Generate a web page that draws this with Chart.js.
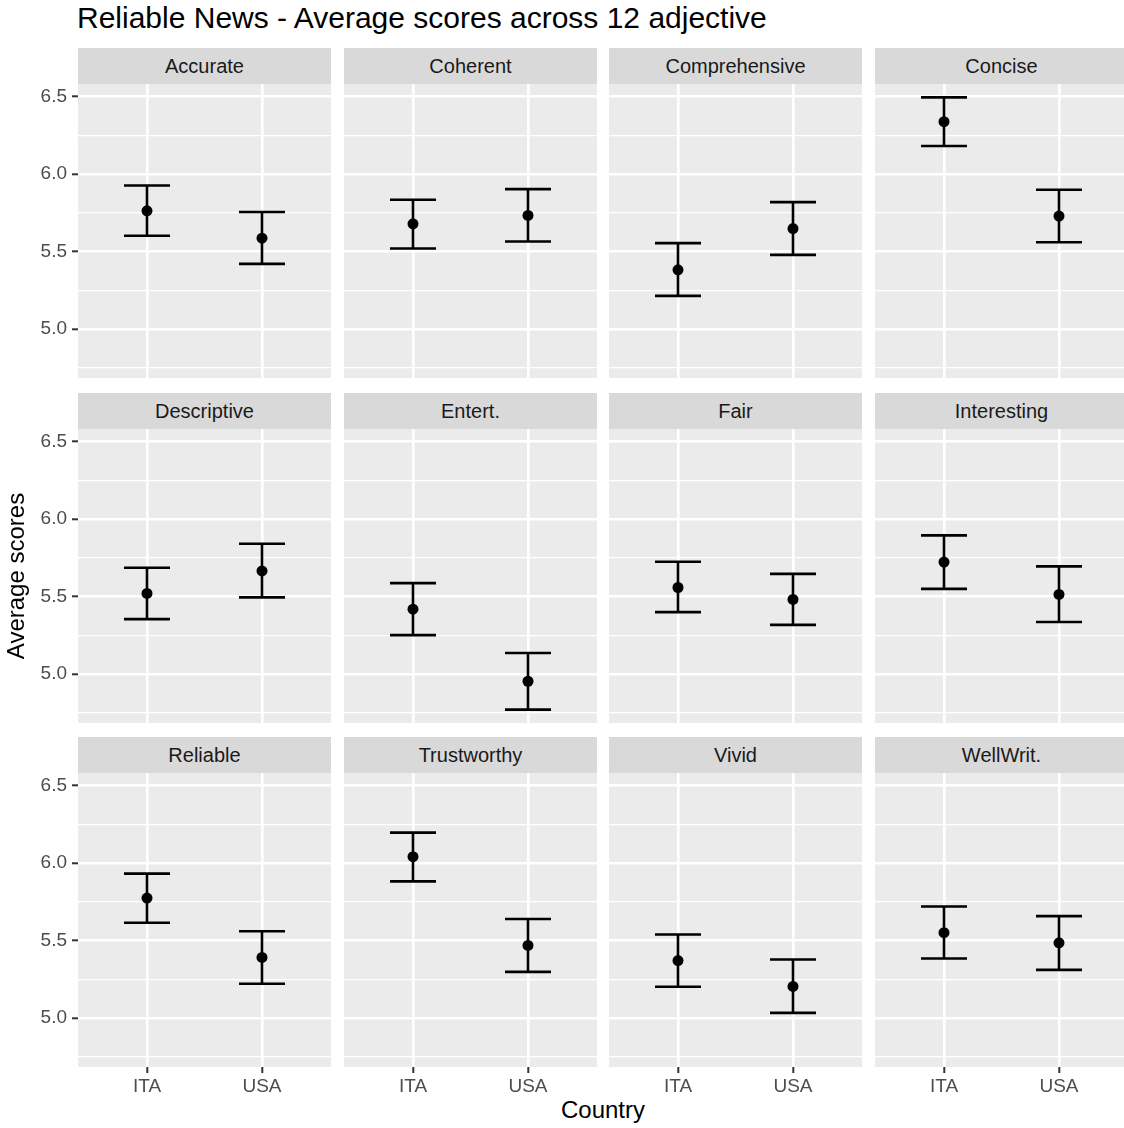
<!DOCTYPE html>
<html><head><meta charset="utf-8">
<script src="https://cdn.jsdelivr.net/npm/chart.js@4.4.0/dist/chart.umd.min.js"></script>
<style>
html,body{margin:0;padding:0;background:#fff;width:1124px;height:1128px;overflow:hidden;position:relative;font-family:"Liberation Sans",Arial,sans-serif;}
.strip{position:absolute;background:#D9D9D9;color:#1A1A1A;font-size:20px;display:flex;align-items:center;justify-content:center;white-space:nowrap;}
.txt{position:absolute;white-space:nowrap;color:#000;}
canvas{position:absolute;}
</style></head><body>
<div class="txt" id="title" style="left:77px;top:3px;font-size:30px;line-height:30px;">Reliable News - Average scores across 12 adjective</div>
<div class="txt" id="xtitle" style="left:503px;width:200px;text-align:center;top:1098px;font-size:24px;line-height:24px;">Country</div>
<script>
// ---- data ----
const adjectives = ["Accurate","Coherent","Comprehensive","Concise","Descriptive","Entert.","Fair","Interesting","Reliable","Trustworthy","Vivid","WellWrit."];
const countries = ["ITA","USA"];
const itaMean = [5.763,5.679,5.383,6.337,5.521,5.419,5.559,5.723,5.774,6.041,5.372,5.551];
const itaLow  = [5.602,5.520,5.215,6.181,5.355,5.252,5.400,5.550,5.615,5.882,5.203,5.385];
const itaHigh = [5.926,5.834,5.555,6.494,5.686,5.587,5.725,5.895,5.932,6.196,5.540,5.720];
const usaMean = [5.587,5.733,5.649,5.729,5.666,4.955,5.482,5.514,5.392,5.469,5.205,5.486];
const usaLow  = [5.421,5.565,5.479,5.561,5.495,4.772,5.318,5.337,5.222,5.299,5.035,5.312];
const usaHigh = [5.755,5.903,5.819,5.899,5.841,5.137,5.647,5.695,5.561,5.639,5.379,5.658];
const yTickValues = [4.75,5.0,5.25,5.5,5.75,6.0,6.25,6.5];
const yMin = 4.686, yMax = 6.58;
const xMin = 0.4, xMax = 2.6;
const yTitle = "Average scores";

// ---- layout ----
const FONT = '"Liberation Sans", Arial, sans-serif';
const panelX = [78, 344, 609, 875];
const plotTop = [84, 429, 773];
const panelW = 253, plotH = 294, stripH = 36;
const yAxisW = 78, xAxisH = 34;

const isMajor = v => Math.abs(v*2 - Math.round(v*2)) < 1e-6;

const panelBg = {
  id: 'panelBg',
  beforeDraw(chart) {
    const {ctx, chartArea: a} = chart;
    ctx.save();
    ctx.fillStyle = '#EBEBEB';
    ctx.fillRect(a.left, a.top, a.right - a.left, a.bottom - a.top);
    ctx.restore();
  }
};

const errBars = {
  id: 'errBars',
  beforeDatasetsDraw(chart) {
    const o = chart.options.plugins.errBars;
    const {ctx, scales: {x, y}} = chart;
    ctx.save();
    ctx.strokeStyle = '#000';
    ctx.lineWidth = 2.6;
    ctx.lineCap = 'butt';
    o.xs.forEach((xv, i) => {
      const px = x.getPixelForValue(xv);
      const pl = x.getPixelForValue(xv - o.half), pr = x.getPixelForValue(xv + o.half);
      const yl = y.getPixelForValue(o.lows[i]), yh = y.getPixelForValue(o.highs[i]);
      ctx.beginPath();
      ctx.moveTo(px, yh); ctx.lineTo(px, yl);
      ctx.moveTo(pl, yh); ctx.lineTo(pr, yh);
      ctx.moveTo(pl, yl); ctx.lineTo(pr, yl);
      ctx.stroke();
    });
    ctx.restore();
  }
};

adjectives.forEach((adj, i) => {
  const row = Math.floor(i / 4), col = i % 4;
  const isLeft = col === 0, isBottom = row === 2;
  // strip
  const s = document.createElement('div');
  s.className = 'strip';
  s.style.left = panelX[col] + 'px';
  s.style.top = (plotTop[row] - stripH) + 'px';
  s.style.width = panelW + 'px';
  s.style.height = stripH + 'px';
  s.textContent = adj;
  document.body.appendChild(s);
  // canvas
  const cv = document.createElement('canvas');
  const left = isLeft ? 0 : panelX[col];
  const w = isLeft ? panelX[col] + panelW : panelW;
  const h = plotH + (isBottom ? xAxisH : 0);
  cv.width = w; cv.height = h;
  cv.style.left = left + 'px'; cv.style.top = plotTop[row] + 'px';
  cv.style.width = w + 'px'; cv.style.height = h + 'px';
  document.body.appendChild(cv);

  new Chart(cv, {
    type: 'scatter',
    data: {
      datasets: [{
        data: [{x: 1, y: itaMean[i]}, {x: 2, y: usaMean[i]}],
        backgroundColor: '#000', borderColor: '#000', borderWidth: 0,
        pointRadius: 5.5, pointHoverRadius: 5.5
      }]
    },
    options: {
      responsive: false, animation: false, devicePixelRatio: 1,
      layout: {padding: 0, autoPadding: false},
      events: [],
      plugins: {
        legend: {display: false}, tooltip: {enabled: false}, title: {display: false},
        errBars: {xs: [1, 2], lows: [itaLow[i], usaLow[i]], highs: [itaHigh[i], usaHigh[i]], half: 0.2}
      },
      scales: {
        x: {
          type: 'linear', min: xMin, max: xMax,
          afterBuildTicks: sc => { sc.ticks = countries.map((c, k) => ({value: k + 1})); },
          afterFit: sc => { sc.height = isBottom ? xAxisH : 0; sc.paddingLeft = 0; sc.paddingRight = 0; },
          ticks: {display: isBottom, autoSkip: false, maxRotation: 0, padding: 2, color: '#4D4D4D',
                  font: {family: FONT, size: 19}, callback: v => countries[Math.round(v) - 1] || ''},
          grid: {color: '#FFFFFF', lineWidth: 2.6, drawTicks: isBottom, tickLength: 6, tickColor: '#333333', tickWidth: 2},
          border: {display: false}
        },
        y: {
          type: 'linear', min: yMin, max: yMax,
          afterBuildTicks: sc => { sc.ticks = yTickValues.map(v => ({value: v})); },
          afterFit: sc => { sc.width = isLeft ? yAxisW : 0; sc.paddingTop = 0; sc.paddingBottom = 0; },
          ticks: {display: isLeft, autoSkip: false, padding: 5, color: '#4D4D4D',
                  font: {family: FONT, size: 19}, callback: v => isMajor(v) ? v.toFixed(1) : ''},
          grid: {
            color: '#FFFFFF',
            lineWidth: c => (c.tick && isMajor(c.tick.value)) ? 2.6 : 1.3,
            drawTicks: isLeft, tickLength: 6, tickWidth: 2,
            tickColor: c => (c.tick && isMajor(c.tick.value)) ? '#333333' : 'rgba(0,0,0,0)'
          },
          border: {display: false},
          title: {display: isLeft && row === 1, text: yTitle, color: '#000',
                  font: {family: FONT, size: 24}, padding: {top: 3, bottom: 0}}
        }
      }
    },
    plugins: [panelBg, errBars]
  });
});
</script>
</body></html>
